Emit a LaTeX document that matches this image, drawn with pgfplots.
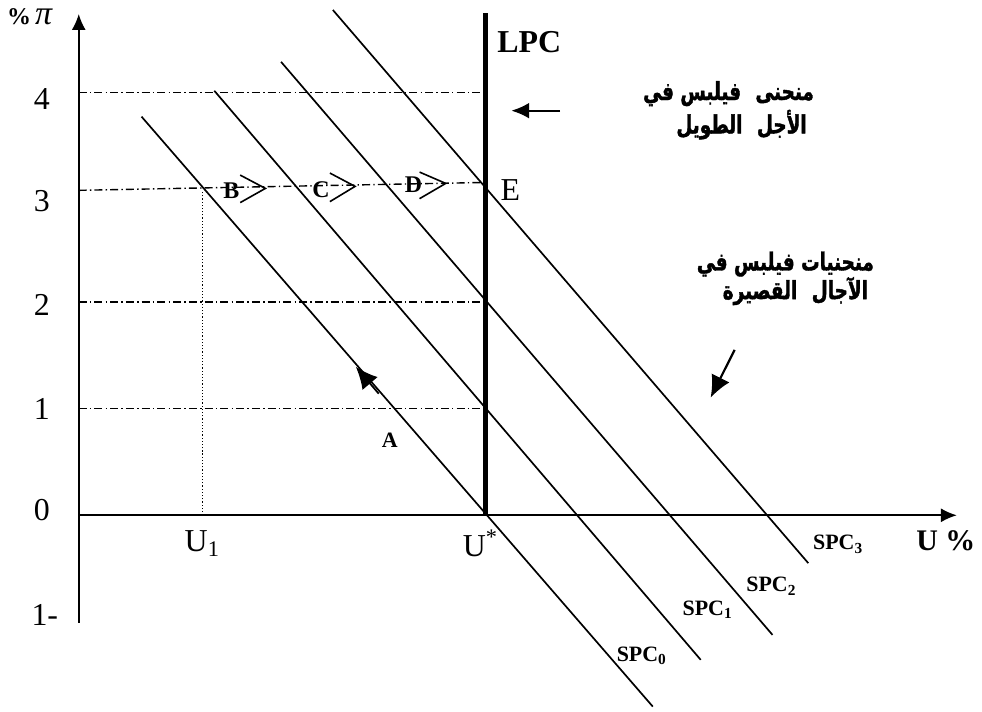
\documentclass[border=0pt]{standalone}
\usepackage{fontspec}
\setmainfont{Liberation Serif}
\newfontfamily\arabicfont[Script=Arabic,FakeStretch=0.74,FakeBold=1.6]{DejaVu Sans Bold}
\TeXXeTstate=1
\usepackage{pgfplots}
\pgfplotsset{compat=1.18}
\usetikzlibrary{arrows.meta}

\tikzset{
  dashdot/.style={line width=0.7pt,dash pattern=on 4pt off 1.6pt on 0.7pt off 1.6pt},
  spc/.style={line width=0.85pt},
  chev/.style={line width=0.8pt},
  ar/.style={font=\arabicfont\fontsize{12.5}{14}\selectfont},
  num/.style={font=\fontsize{16}{18}\selectfont},
}

\begin{document}
\begin{tikzpicture}
\begin{axis}[
  width=491pt,height=357pt,scale only axis,
  xmin=-0.7383,xmax=8.4393,ymin=-1.8411,ymax=4.8318,
  hide axis,clip=false
]
% frame that fixes the picture size
\addplot[draw=none] coordinates {(-0.7383,-1.8411)(8.4393,4.8318)};

% axes
\addplot[line width=0.9pt,-{Latex[length=8pt,width=7pt]}] coordinates {(0,0)(8.234,0)};
\addplot[line width=0.9pt,-{Latex[length=8pt,width=7pt]}] coordinates {(0,-1.009)(0,4.701)};

% guide lines
\addplot[dashdot] coordinates {(0,3.963)(3.813,3.963)};
\addplot[dashdot] coordinates {(0,3.047)(3.813,3.121)};
\addplot[dashdot] coordinates {(0,2.0)(3.813,2.0)};
\addplot[dashdot] coordinates {(0,1.0)(3.813,1.0)};
\addplot[line width=0.6pt,densely dotted] coordinates {(1.159,0)(1.159,3.047)};

% short-run curves
\addplot[spc] coordinates {(0.589,3.738)(5.383,-1.794)};
\addplot[spc] coordinates {(1.271,3.981)(5.832,-1.355)};
\addplot[spc] coordinates {(1.897,4.252)(6.505,-1.121)};
\addplot[spc] coordinates {(2.383,4.738)(6.841,-0.449)};

% long-run curve
\addplot[line width=2.2pt] coordinates {(3.813,0)(3.813,4.710)};

% chevrons B, C, D
\addplot[chev] coordinates {(1.514,3.190)(1.750,3.065)(1.514,2.932)};
\addplot[chev] coordinates {(2.355,3.209)(2.591,3.084)(2.355,2.941)};
\addplot[chev] coordinates {(3.196,3.218)(3.441,3.112)(3.196,2.969)};

% arrows
\addplot[line width=0.9pt,-{Latex[length=11pt,width=10pt]}] coordinates {(2.813,1.140)(2.598,1.393)};
\addplot[line width=1.1pt,-{Latex[length=9pt,width=8pt]}] coordinates {(4.514,3.794)(4.056,3.794)};
\addplot[line width=1.1pt,-{Latex[length=11pt,width=10pt]}] coordinates {(6.150,1.551)(5.925,1.103)};

% labels
\node[font=\bfseries\fontsize{12}{14}\selectfont] at (axis cs:-0.46,4.673) {\%\,\fontsize{17}{18}\selectfont\mdseries\itshape π};
\node[num] at (axis cs:-0.346,3.907) {4};
\node[num] at (axis cs:-0.346,2.944) {3};
\node[num] at (axis cs:-0.346,1.972) {2};
\node[num] at (axis cs:-0.346,1.0) {1};
\node[num] at (axis cs:-0.346,0.047) {0};
\node[num] at (axis cs:-0.318,-0.935) {1-};
\node[num] at (axis cs:1.159,-0.262) {U\textsubscript{1}};
\node[num] at (axis cs:3.766,-0.262) {U\textsuperscript{*}};
\node[num] at (axis cs:4.047,3.047) {E};
\node[font=\bfseries\fontsize{16}{18}\selectfont] at (axis cs:4.224,4.439) {LPC};
\node[font=\bfseries\fontsize{15}{18}\selectfont] at (axis cs:8.131,-0.243) {U \%};
\node[font=\bfseries\fontsize{11}{13}\selectfont] at (axis cs:2.916,0.701) {A};
\node[font=\bfseries\fontsize{12}{14}\selectfont] at (axis cs:1.430,3.047) {B};
\node[font=\bfseries\fontsize{12}{14}\selectfont] at (axis cs:2.271,3.056) {C};
\node[font=\bfseries\fontsize{12}{14}\selectfont] at (axis cs:3.140,3.103) {D};
\node[font=\bfseries\fontsize{11}{13}\selectfont] at (axis cs:7.121,-0.271) {SPC\textsubscript{3}};
\node[font=\bfseries\fontsize{11}{13}\selectfont] at (axis cs:6.495,-0.664) {SPC\textsubscript{2}};
\node[font=\bfseries\fontsize{11}{13}\selectfont] at (axis cs:5.897,-0.888) {SPC\textsubscript{1}};
\node[font=\bfseries\fontsize{11}{13}\selectfont] at (axis cs:5.280,-1.318) {SPC\textsubscript{0}};

\node[ar] at (axis cs:6.093,3.954) {\beginR منحنى\hspace{4pt} فيلبس في\endR};
\node[ar] at (axis cs:6.215,3.663) {\beginR الأجل\hspace{4pt} الطويل\endR};
\node[ar] at (axis cs:6.626,2.356) {\beginR منحنيات فيلبس في\endR};
\node[ar] at (axis cs:6.720,2.102) {\beginR الآجال\hspace{4pt} القصيرة\endR};
\end{axis}
\end{tikzpicture}
\end{document}
